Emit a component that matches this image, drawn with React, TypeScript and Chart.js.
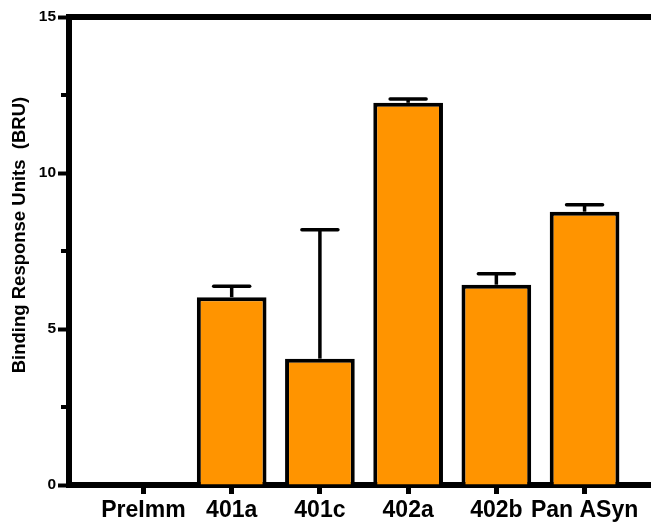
import React, { useEffect, useRef } from 'react';
import { Chart, registerables } from 'chart.js';

Chart.register(...registerables);

const CATEGORIES = ['PreImm', '401a', '401c', '402a', '402b', 'Pan ASyn'];
const MEANS: (number | null)[] = [null, 6.02, 4.05, 12.25, 6.42, 8.76];
const ERRORS: (number | null)[] = [null, 0.35, 4.13, 0.12, 0.35, 0.22];
const MAJOR_TICKS = [0, 5, 10, 15];
const MINOR_TICKS = [2.5, 7.5, 12.5];
const Y_TITLE = 'Binding Response Units  (BRU)';

const FONT = '"Liberation Sans", Arial, sans-serif';
const ORANGE = '#FF9400';

const extrasPlugin = {
  id: 'extras',
  afterDatasetsDraw(chart: any) {
    const { ctx, scales } = chart;
    const xs = scales.x;
    const ys = scales.y;
    ctx.save();
    ctx.strokeStyle = '#000';
    ctx.lineWidth = 3.5;
    MEANS.forEach((m, i) => {
      const e = ERRORS[i];
      if (m == null || e == null) return;
      const px = xs.getPixelForValue(i);
      const base = ys.getPixelForValue(m);
      const top = ys.getPixelForValue(m + e);
      ctx.lineCap = 'butt';
      ctx.beginPath();
      ctx.moveTo(px, base);
      ctx.lineTo(px, top);
      ctx.stroke();
      ctx.lineCap = 'round';
      ctx.beginPath();
      ctx.moveTo(px - 18, top);
      ctx.lineTo(px + 18, top);
      ctx.stroke();
    });
    ctx.restore();
  },
  afterDraw(chart: any) {
    const { ctx, chartArea, scales } = chart;
    const ys = scales.y;
    ctx.save();
    // top frame line
    ctx.strokeStyle = '#000';
    ctx.lineWidth = 6;
    ctx.lineCap = 'butt';
    ctx.beginPath();
    ctx.moveTo(chartArea.left - 3, chartArea.top);
    ctx.lineTo(chart.width, chartArea.top);
    ctx.stroke();
    // minor ticks
    ctx.lineWidth = 4;
    MINOR_TICKS.forEach((v) => {
      const py = ys.getPixelForValue(v);
      ctx.beginPath();
      ctx.moveTo(chartArea.left - 8, py);
      ctx.lineTo(chartArea.left, py);
      ctx.stroke();
    });
    // y axis title
    ctx.fillStyle = '#000';
    ctx.font = `bold 18.5px ${FONT}`;
    ctx.textAlign = 'center';
    ctx.textBaseline = 'middle';
    ctx.translate(20, 235);
    ctx.rotate(-Math.PI / 2);
    ctx.fillText(Y_TITLE, 0, 0);
    ctx.restore();
  },
};

export default function App() {
  const canvasRef = useRef<HTMLCanvasElement | null>(null);

  useEffect(() => {
    if (!canvasRef.current) return;
    const points = MEANS.map((v, i) => (v == null ? null : { x: i, y: v })).filter(
      (p) => p !== null
    ) as { x: number; y: number }[];

    const chart = new Chart(canvasRef.current, {
      type: 'bar',
      data: {
        datasets: [
          {
            data: points as any,
            backgroundColor: ORANGE,
            borderColor: '#000',
            borderWidth: 4,
            borderSkipped: 'start',
            categoryPercentage: 1,
            barPercentage: 0.79,
          },
        ],
      },
      options: {
        animation: false,
        responsive: true,
        maintainAspectRatio: false,
        devicePixelRatio: 1,
        layout: { padding: { top: 17, right: 0, bottom: 0, left: 0 } },
        plugins: {
          legend: { display: false },
          tooltip: { enabled: false },
          title: { display: false },
        },
        scales: {
          x: {
            type: 'linear',
            min: -0.844,
            max: 5.753,
            offset: false,
            z: 1,
            afterBuildTicks: (scale: any) => {
              scale.ticks = CATEGORIES.map((_, i) => ({ value: i }));
            },
            afterFit: (scale: any) => {
              scale.height = 40;
            },
            grid: {
              offset: false,
              drawOnChartArea: false,
              drawTicks: true,
              tickLength: 9,
              tickWidth: 5,
              tickColor: '#000',
            },
            border: { display: true, color: '#000', width: 6 },
            ticks: {
              autoSkip: false,
              maxRotation: 0,
              minRotation: 0,
              padding: 3,
              color: '#000',
              font: { family: FONT, size: 23, weight: 'bold' },
              callback: (value: any) => CATEGORIES[Math.round(Number(value))] ?? '',
            },
          },
          y: {
            type: 'linear',
            min: 0,
            max: 15,
            afterBuildTicks: (scale: any) => {
              scale.ticks = MAJOR_TICKS.map((v) => ({ value: v }));
            },
            afterFit: (scale: any) => {
              scale.width = 69;
            },
            grid: {
              drawOnChartArea: false,
              drawTicks: true,
              tickLength: 11,
              tickWidth: 4,
              tickColor: '#000',
            },
            border: { display: true, color: '#000', width: 6 },
            ticks: {
              padding: 2,
              color: '#000',
              font: { family: FONT, size: 15.5, weight: 'bold' },
              callback: (value: any) => String(value),
            },
          },
        },
      },
      plugins: [extrasPlugin],
    });
    return () => chart.destroy();
  }, []);

  return (
    <div style={{ position: 'absolute', left: 0, top: 0, width: 651, height: 525, background: '#fff' }}>
      <canvas ref={canvasRef} />
    </div>
  );
}
